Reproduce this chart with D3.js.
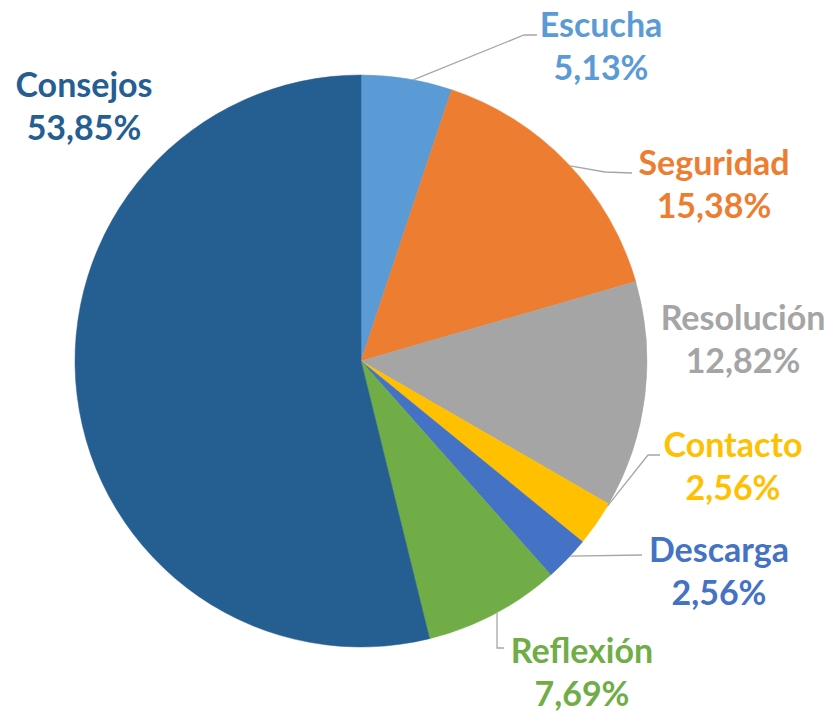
<!DOCTYPE html>
<html>
<head>
<meta charset="utf-8">
<script src="https://cdn.jsdelivr.net/npm/d3@7"></script>
<style>
  html, body { margin: 0; padding: 0; background: #ffffff; }
  svg { display: block; }
  .lbl { font-family: Lato, "Open Sans", sans-serif; font-weight: 700; }
</style>
</head>
<body>
<svg id="chart" width="833" height="715"></svg>
<script>
// Share of responses per category (percent)
const categories = ["Escucha", "Seguridad", "Resolución", "Contacto", "Descarga", "Reflexión", "Consejos"];
const values = [5.13, 15.38, 12.82, 2.56, 2.56, 7.69, 53.85];
const colors = ["#5B9BD5", "#ED7D31", "#A5A5A5", "#FFC000", "#4472C4", "#70AD47", "#255E91"];

// Label placement: text centre, first baseline, and leader line route
const labelLayout = {
  "Escucha":    { x: 601, y: 37,  leader: { deg: 10.5, pts: [[524, 35], [537, 35]] } },
  "Seguridad":  { x: 714, y: 175, leader: { deg: 47,   pts: [[605, 172], [632, 173]] } },
  "Resolución": { x: 743, y: 330, leader: null },
  "Contacto":   { x: 733, y: 457, leader: { deg: 120.5, pts: [[648, 455], [660, 455]] } },
  "Descarga":   { x: 719, y: 562, leader: { deg: 133,  pts: [[642, 555]] } },
  "Reflexión":  { x: 582, y: 663, leader: { deg: 151.6, pts: [[497, 648], [504, 648]] } },
  "Consejos":   { x: 84,  y: 97,  leader: null }
};

const cx = 361, cy = 361, radius = 286;
const lineGap = 43;

const svg = d3.select("#chart");
const g = svg.append("g").attr("transform", `translate(${cx},${cy})`);

const pie = d3.pie().sort(null).value(d => d.value).startAngle(0).endAngle(2 * Math.PI);
const arc = d3.arc().innerRadius(0).outerRadius(radius);

const data = categories.map((c, i) => ({ name: c, value: values[i], color: colors[i] }));
const arcs = pie(data);

g.selectAll("path.slice")
  .data(arcs)
  .join("path")
  .attr("class", "slice")
  .attr("d", arc)
  .attr("fill", d => d.data.color)
  .attr("stroke", d => d.data.color)
  .attr("stroke-width", 0.5);

const fmt = v => d3.format(".2f")(v).replace(".", ",") + "%";

// Leader lines from the slice edge to the label
const lineGen = d3.line();
arcs.forEach(a => {
  const lay = labelLayout[a.data.name];
  if (!lay.leader) return;
  const t = lay.leader.deg * Math.PI / 180;
  const start = [cx + radius * Math.sin(t), cy - radius * Math.cos(t)];
  svg.append("path")
    .attr("d", lineGen([start, ...lay.leader.pts]))
    .attr("fill", "none")
    .attr("stroke", "#A6A6A6")
    .attr("stroke-width", 1.3);
});

// Category name and percentage
arcs.forEach(a => {
  const lay = labelLayout[a.data.name];
  const t = svg.append("text")
    .attr("class", "lbl")
    .attr("text-anchor", "middle")
    .attr("fill", a.data.color)
    .attr("font-size", 34);
  t.append("tspan").attr("x", lay.x).attr("y", lay.y).text(a.data.name);
  t.append("tspan").attr("x", lay.x).attr("y", lay.y + lineGap).text(fmt(a.data.value));
});
</script>
</body>
</html>
